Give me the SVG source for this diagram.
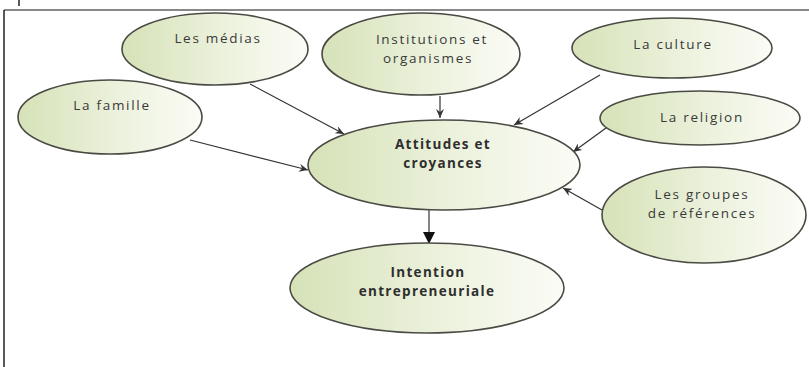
<svg xmlns="http://www.w3.org/2000/svg" width="809" height="367" viewBox="0 0 809 367">
<style>
.node ellipse{fill:url(#g);stroke:#4a4a44;stroke-width:1.6}
.node text{font-family:"Open Sans","DejaVu Sans",sans-serif;font-size:13.5px;fill:#3a3a3a;text-anchor:middle;letter-spacing:1.7px}
.node text.b{font-weight:bold;font-size:13.5px;letter-spacing:1.3px;fill:#2e2e2e}
.conn line{stroke:#333;stroke-width:1.2}
</style>
<defs>
<linearGradient id="g" x1="0" y1="0" x2="1" y2="0">
<stop offset="0" stop-color="#d6e2b8"/>
<stop offset="0.6" stop-color="#eef3e0"/>
<stop offset="1" stop-color="#fbfcf6"/>
</linearGradient>
<marker id="a" markerWidth="10" markerHeight="8" refX="9" refY="4" orient="auto" markerUnits="userSpaceOnUse">
<path d="M0,0 L9,4 L0,8 L3,4 Z" fill="#333"/>
</marker>
<marker id="t" markerWidth="14" markerHeight="12" refX="12" refY="6" orient="auto" markerUnits="userSpaceOnUse">
<path d="M0,0 L12,6 L0,12 Z" fill="#111"/>
</marker>
</defs>
<rect width="809" height="367" fill="#fff"/>
<line x1="4" y1="10" x2="809" y2="10" stroke="#888" stroke-width="2"/>
<line x1="4" y1="10" x2="4" y2="367" stroke="#222" stroke-width="1.5"/>
<line x1="19" y1="0" x2="19" y2="6" stroke="#222" stroke-width="1.5"/>
<g class="conn">
<line x1="190" y1="140" x2="308" y2="170" marker-end="url(#a)"/>
<line x1="250" y1="84" x2="344" y2="134" marker-end="url(#a)"/>
<line x1="440" y1="96" x2="440" y2="118" marker-end="url(#a)"/>
<line x1="600" y1="75" x2="514" y2="125" marker-end="url(#a)"/>
<line x1="606" y1="128" x2="573" y2="152" marker-end="url(#a)"/>
<line x1="602" y1="210" x2="563" y2="188" marker-end="url(#a)"/>
<line x1="429" y1="210" x2="429" y2="244" stroke="#111" stroke-width="2" marker-end="url(#t)"/>
</g>
<g id="famille" class="node"><ellipse cx="110" cy="117" rx="92" ry="37"/><text x="112" y="110">La famille</text></g>
<g id="medias" class="node"><ellipse cx="215" cy="49" rx="93" ry="36"/><text x="218" y="43">Les médias</text></g>
<g id="institutions" class="node"><ellipse cx="421" cy="54" rx="99" ry="41"/><text x="432" y="44">Institutions et</text><text x="428" y="63">organismes</text></g>
<g id="culture" class="node"><ellipse cx="672" cy="48" rx="100" ry="30"/><text x="673" y="49">La culture</text></g>
<g id="religion" class="node"><ellipse cx="700" cy="118" rx="100" ry="27"/><text x="702" y="122">La religion</text></g>
<g id="groupes" class="node"><ellipse cx="704" cy="215" rx="102" ry="48"/><text x="702" y="199">Les groupes</text><text x="702" y="218">de références</text></g>
<g id="attitudes" class="node"><ellipse cx="444" cy="165" rx="136" ry="45"/><text class="b" x="443" y="149">Attitudes et</text><text class="b" x="443" y="168">croyances</text></g>
<g id="intention" class="node"><ellipse cx="427" cy="288" rx="137" ry="45"/><text class="b" x="428" y="277">Intention</text><text class="b" x="427" y="296">entrepreneuriale</text></g>
</svg>
